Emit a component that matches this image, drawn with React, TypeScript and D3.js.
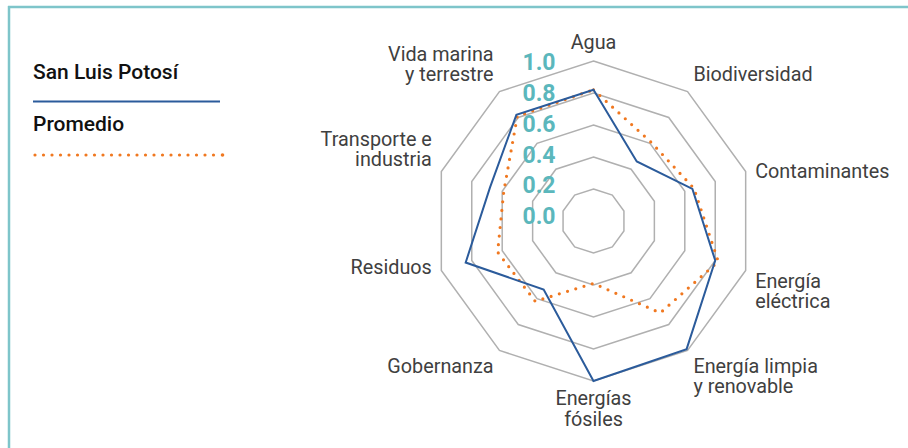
import React from 'react';
import * as d3 from 'd3';

const ejes = ['Agua', 'Biodiversidad', 'Contaminantes', 'Energía eléctrica', 'Energía limpia y renovable',
    'Energías fósiles', 'Gobernanza', 'Residuos', 'Transporte e industria', 'Vida marina y terrestre'];
const etiquetas = [['Agua'], ['Biodiversidad'], ['Contaminantes'], ['Energía', 'eléctrica'], ['Energía limpia', 'y renovable'],
    ['Energías', 'fósiles'], ['Gobernanza'], ['Residuos'], ['Transporte e', 'industria'], ['Vida marina', 'y terrestre']];
const sanLuisPotosi = [0.82, 0.46, 0.65, 0.80, 0.99, 1.0, 0.53, 0.84, 0.68, 0.82];
const promedio = [0.82, 0.61, 0.66, 0.82, 0.71, 0.39, 0.62, 0.63, 0.59, 0.81];
const anillos = [0.2, 0.4, 0.6, 0.8, 1.0];
const ticks = [0.0, 0.2, 0.4, 0.6, 0.8, 1.0];
const series = [
    { nombre: 'San Luis Potosí', valores: sanLuisPotosi },
    { nombre: 'Promedio', valores: promedio },
];

const azul = '#2b5b9b';
const naranja = '#f07820';
const teal = '#5bb7bc';

const plotRadar = (ref: React.RefObject<SVGSVGElement | null>) => {
    const width = 908, height = 448;
    const cx = 593.5, cy = 221;
    const svg = d3.select(ref.current);
    svg.selectAll('*').remove();
    svg.attr('width', width).attr('height', height);

    // frame
    svg.append('line').attr('x1', 8).attr('x2', width).attr('y1', 7).attr('y2', 7)
        .attr('stroke', '#7ec5ca').attr('stroke-width', 2.5);
    svg.append('line').attr('x1', 9).attr('x2', 9).attr('y1', 6).attr('y2', height)
        .attr('stroke', '#7ec5ca').attr('stroke-width', 2.5);

    const r = d3.scaleLinear().domain([0, 1]).range([0, 160]);
    // tick labels sit on a slightly tighter scale than the rings
    const yTick = d3.scaleLinear().domain([0, 1]).range([-4.3, -158.5]);
    const step = (2 * Math.PI) / ejes.length;

    const g = svg.append('g').attr('transform', `translate(${cx},${cy})`);

    const radial = d3.lineRadial<number>()
        .angle((d, i) => i * step)
        .radius(d => r(d))
        .curve(d3.curveLinearClosed);

    // grid rings
    anillos.forEach(a => {
        g.append('path')
            .attr('d', radial(ejes.map(() => a)))
            .attr('fill', 'none')
            .attr('stroke', '#b0b0b0')
            .attr('stroke-width', 1.5);
    });

    // series
    g.append('path')
        .attr('d', radial(series[1].valores))
        .attr('fill', 'none')
        .attr('stroke', naranja)
        .attr('stroke-width', 3.2)
        .attr('stroke-linecap', 'round')
        .attr('stroke-dasharray', '0 8.6');
    g.append('path')
        .attr('d', radial(series[0].valores))
        .attr('fill', 'none')
        .attr('stroke', azul)
        .attr('stroke-width', 2);

    // axis labels
    const lh = 20.5;
    etiquetas.forEach((lines, i) => {
        const ang = i * step;
        const s = Math.sin(ang), c = Math.cos(ang);
        const px = r(1.0625) * s;
        const py = -r(1.0625) * c;
        const anchor = s > 0.1 ? 'start' : s < -0.1 ? 'end' : 'middle';
        let first;
        if (Math.abs(c) > 0.5 || lines.length > 1) {
            first = c > 0 ? py - 2 - lh * (lines.length - 1) : py + 14;
        } else {
            first = py + 5 + 14.5 * c;
        }
        const t = g.append('text')
            .attr('text-anchor', anchor)
            .attr('font-family', 'Roboto, sans-serif')
            .attr('font-size', 19.8)
            .attr('fill', '#404040');
        lines.forEach((l, k) => {
            t.append('tspan').attr('x', px).attr('y', first + k * lh).text(l);
        });
    });

    // tick labels
    ticks.forEach(v => {
        g.append('text')
            .attr('x', -38)
            .attr('y', yTick(v))
            .attr('text-anchor', 'end')
            .attr('dominant-baseline', 'central')
            .attr('font-family', 'Roboto, sans-serif')
            .attr('font-weight', 'bold')
            .attr('font-size', 23)
            .attr('fill', teal)
            .text(d3.format('.1f')(v));
    });

    // legend
    const leg = svg.append('g').attr('font-family', 'Roboto, sans-serif')
        .attr('font-size', 21).attr('font-weight', 500).attr('fill', '#111');
    leg.append('text').attr('x', 33).attr('y', 79).text(series[0].nombre);
    leg.append('line').attr('x1', 33).attr('x2', 220).attr('y1', 101.5).attr('y2', 101.5)
        .attr('stroke', azul).attr('stroke-width', 2);
    leg.append('text').attr('x', 33).attr('y', 131).text(series[1].nombre);
    leg.append('line').attr('x1', 35).attr('x2', 214).attr('y1', 155).attr('y2', 155)
        .attr('stroke', naranja).attr('stroke-width', 3.2)
        .attr('stroke-linecap', 'round').attr('stroke-dasharray', '0 8.5');
    leg.append('circle').attr('cx', 222.5).attr('cy', 155).attr('r', 1.8).attr('fill', naranja);
};

function RadarChart() {
    const ref = React.useRef<SVGSVGElement>(null);

    React.useEffect(() => {
        plotRadar(ref);
    }, []);

    return (
        <svg ref={ref} style={{ position: 'absolute', left: 0, top: 0, background: '#fff' }} />
    );
}

export default function App() {
    return <RadarChart />;
}
